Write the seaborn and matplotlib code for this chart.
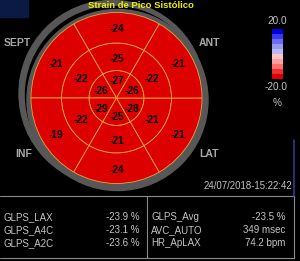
import numpy as np
import pandas as pd
import matplotlib
matplotlib.use("Agg")
import matplotlib.pyplot as plt
from matplotlib.patches import Wedge, Circle, Rectangle
from matplotlib.colors import ListedColormap, Normalize
import seaborn as sns

# ---------------- data ----------------
title = "Strain de Pico Sistólico"
# sector order (visual angle of sector centre): top, upper-left, lower-left, bottom, lower-right, upper-right
sector_angles = [90, 150, 210, 270, 330, 30]
basal = [-24, -21, -19, -24, -21, -21]
mid = [-25, -22, -22, -21, -21, -22]
apical = [-27, -26, -29, -25, -28, -26]

wall_labels = ["SEPT", "ANT", "INF", "LAT"]

cbar_levels = [18, 14, 10, 6, 2, -2, -6, -10, -14, -18]
cbar_colors = ['#DD0000', '#F03030', '#FF6E6E', '#FF9C9C', '#FFC4C4',
               '#B8B8F4', '#9898F2', '#6C6CF0', '#3A3AEE', '#0000E0']
cbar_max, cbar_min, cbar_unit = "20.0", "-20.0", "%"

timestamp = "24/07/2018-15:22:42"
left_names = ["GLPS_LAX", "GLPS_A4C", "GLPS_A2C"]
left_values = ["-23.9 %", "-23.1 %", "-23.6 %"]
right_names = ["GLPS_Avg", "AVC_AUTO", "HR_ApLAX"]
right_values = ["-23.5 %", "349 msec", "74.2 bpm"]

# ---------------- style ----------------
sns.set_theme(style="white")
plt.rcParams['font.family'] = ['Liberation Sans', 'DejaVu Sans']

W, H = 300, 261
fig = plt.figure(figsize=(W / 100, H / 100), dpi=100, facecolor='black')
ax = fig.add_axes([0, 0, 1, 1])
ax.set_facecolor('black')
ax.set_xlim(0, W)
ax.set_ylim(H, 0)
ax.axis('off')

cmap = ListedColormap(cbar_colors)
cmap.set_under(cbar_colors[0])
cmap.set_over(cbar_colors[-1])
norm = Normalize(vmin=-20, vmax=20)

# top-left box
ax.add_patch(Rectangle((0, 0), 28, 17, color='#0b1a45', zorder=1))

# decorative grey rings
gray = '#575757'
ax.add_patch(Circle((112, 93.5), 93, color=gray, zorder=1))
ax.add_patch(Circle((114, 95), 88.5, color='black', zorder=2))
ax.add_patch(Circle((117.5, 100), 90.5, color=gray, zorder=3))

# bullseye
cx, cy = 116.5, 98
rings = [(0, 27.5, apical, 18), (27.5, 55, mid, 41), (55, 85.5, basal, 70.5)]
for r_in, r_out, vals, r_txt in rings:
    for ang, v in zip(sector_angles, vals):
        # y axis is inverted: visual angle a -> data angle -a
        w = Wedge((cx, cy), r_out, -(ang + 30), -(ang - 30), width=r_out - r_in,
                  facecolor=cmap(norm(v)), edgecolor='#E8A830', linewidth=0.6, zorder=4)
        ax.add_patch(w)
        tx = cx + r_txt * np.cos(np.radians(ang))
        ty = cy - r_txt * np.sin(np.radians(ang))
        ax.text(tx, ty + 0.5, f"{v}", ha='center', va='center_baseline', fontsize=7.3,
                fontweight='bold', color='black', zorder=5)

ax.text(141, 5.5, title, ha='center', va='center', fontsize=6.8, fontweight='bold',
        color='#F0F000', zorder=6)

lab_col = '#a8a8a8'
ax.text(4, 43, wall_labels[0], ha='left', va='center', fontsize=7.5, fontweight='bold', color=lab_col)
ax.text(199, 43, wall_labels[1], ha='left', va='center', fontsize=7.5, fontweight='bold', color=lab_col)
ax.text(15, 154, wall_labels[2], ha='left', va='center', fontsize=7.5, fontweight='bold', color=lab_col)
ax.text(199, 154, wall_labels[3], ha='left', va='center', fontsize=7.5, fontweight='bold', color=lab_col)

# colour bar via seaborn heatmap
cax = fig.add_axes([272 / W, 1 - 79 / H, 11 / W, 50 / H])
cdf = pd.DataFrame({"v": cbar_levels})
sns.heatmap(cdf, ax=cax, cmap=cmap, vmin=-20, vmax=20, cbar=False,
            xticklabels=False, yticklabels=False)
cax.axis('off')
txt_col = '#c4c4c4'
ax.text(277, 21, cbar_max, ha='center', va='center', fontsize=7.2, color=txt_col)
ax.text(276, 87, cbar_min, ha='center', va='center', fontsize=7.2, color=txt_col)
ax.text(277, 103, cbar_unit, ha='center', va='center', fontsize=7.2, color=txt_col)

ax.text(292, 186, timestamp, ha='right', va='center', fontsize=6.9, color=txt_col)

# bottom panel lines
line_col = '#8a8a8a'
ax.plot([0, 294], [196, 196], color=line_col, lw=0.8)
ax.plot([0, 294], [258, 258], color=line_col, lw=0.8)
ax.plot([147, 147], [196, 258], color=line_col, lw=0.8)
ax.plot([293.5, 293.5], [196, 258], color=line_col, lw=0.8)
ax.plot([293.5, 293.5], [140, 196], color='#2a3a8a', lw=1.2)

rows_y = [217, 230, 243]
for y, n, v in zip(rows_y, left_names, left_values):
    ax.text(4, y, n, ha='left', va='center', fontsize=7, color=txt_col)
    ax.text(140, y, v, ha='right', va='center', fontsize=7, color=txt_col)
for y, n, v in zip(rows_y, right_names, right_values):
    ax.text(151, y, n, ha='left', va='center', fontsize=7, color=txt_col)
    ax.text(285, y, v, ha='right', va='center', fontsize=7, color=txt_col)

fig.savefig("out.png", dpi=100, facecolor='black')
